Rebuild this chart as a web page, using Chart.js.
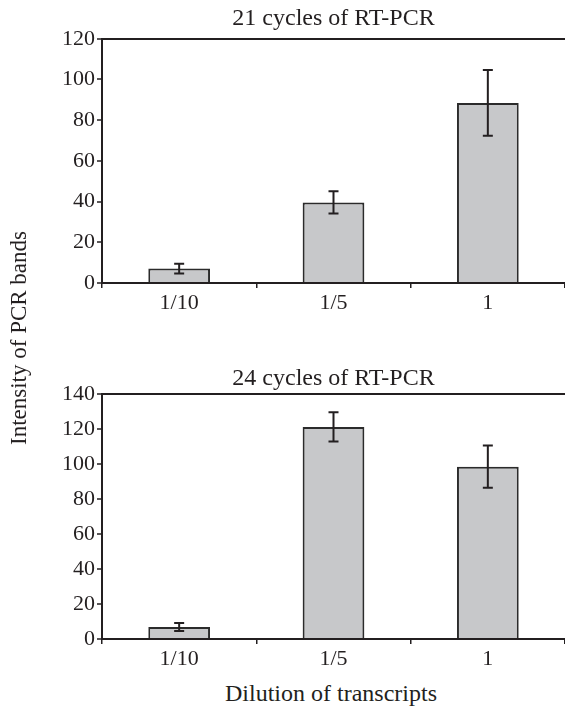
<!DOCTYPE html>
<html>
<head>
<meta charset="utf-8">
<script src="https://cdn.jsdelivr.net/npm/chart.js@4.4.1/dist/chart.umd.min.js"></script>
<style>
  body { margin: 0; background: #fff; }
  #wrap { position: relative; width: 565px; height: 707px; overflow: hidden; font-family: 'Liberation Serif', serif; color: #231f20; }
  canvas { position: absolute; left: 0; }
  #c21 { top: 0; }
  #c24 { top: 350px; }
  .lbl { position: absolute; line-height: 26px; text-align: center; white-space: nowrap; }
  #ytitle { font-size: 23px; width: 300px; left: -131px; top: 325px; transform: rotate(-90deg); }
  #xtitle { font-size: 24px; width: 300px; left: 181px; top: 680px; }
</style>
</head>
<body>
<div id="wrap">
  <canvas id="c21" width="565" height="330"></canvas>
  <canvas id="c24" width="565" height="330"></canvas>
  <div class="lbl" id="ytitle">Intensity of PCR bands</div>
  <div class="lbl" id="xtitle">Dilution of transcripts</div>
</div>
<script>
// Werte
const categories = ['1/10', '1/5', '1'];
const means21 = [7.1, 39.6, 88.5];
const errors21 = [2.4, 5.5, 16.2];
const means24 = [6.9, 121.1, 98.4];
const errors24 = [2.3, 8.3, 12.1];
const yMax21 = 120;
const yMax24 = 140;
const yStep = 20;

const ink = '#231f20';
const barFill = '#c7c8ca';

Chart.defaults.font.family = "'Liberation Serif', serif";
Chart.defaults.color = ink;

// Fehlerbalken ueber die Skala der Y-Achse zeichnen
const errorBars = {
    id: 'errorBars',
    afterDatasetsDraw(chart, args, opts) {
        const ctx = chart.ctx;
        const yScale = chart.scales.y;
        const meta = chart.getDatasetMeta(0);
        const values = chart.data.datasets[0].data;
        ctx.save();
        ctx.strokeStyle = ink;
        ctx.lineWidth = 2;
        meta.data.forEach((bar, i) => {
            const top = yScale.getPixelForValue(values[i] + opts.errors[i]);
            const bottom = yScale.getPixelForValue(values[i] - opts.errors[i]);
            ctx.beginPath();
            ctx.moveTo(bar.x, top);
            ctx.lineTo(bar.x, bottom);
            ctx.moveTo(bar.x - 5, top);
            ctx.lineTo(bar.x + 5, top);
            ctx.moveTo(bar.x - 5, bottom);
            ctx.lineTo(bar.x + 5, bottom);
            ctx.stroke();
        });
        ctx.restore();
    }
};

function makeChart(id, title, means, errors, yMax, titlePad, xHeight) {
    return new Chart(document.getElementById(id), {
        type: 'bar',
        data: {
            labels: categories,
            datasets: [{
                data: means,
                backgroundColor: barFill,
                borderColor: '#2b2b2b',
                borderWidth: 2,
                categoryPercentage: 1,
                barPercentage: 0.4
            }]
        },
        options: {
            responsive: false,
            animation: false,
            layout: { padding: { left: 0, right: 0, top: 0, bottom: 0 } },
            plugins: {
                legend: { display: false },
                tooltip: { enabled: false },
                title: {
                    display: true,
                    fullSize: false, // nur ueber der Zeichenflaeche zentrieren
                    text: title,
                    color: ink,
                    font: { size: 24, weight: 'normal' },
                    padding: titlePad
                },
                errorBars: { errors: errors }
            },
            scales: {
                x: {
                    grid: {
                        offset: true,
                        drawOnChartArea: false,
                        color: ink,
                        tickLength: 5,
                        lineWidth: 1.5
                    },
                    border: { display: true, color: ink, width: 2 },
                    ticks: { font: { size: 22 }, color: ink, padding: 2 },
                    afterFit(scale) { scale.height = xHeight; }
                },
                y: {
                    min: 0,
                    max: yMax,
                    grid: {
                        color: c => (c.tick && c.tick.value === yMax) ? ink : 'rgba(0,0,0,0)',
                        lineWidth: 2,
                        tickColor: ink,
                        tickWidth: 1.5,
                        tickLength: 5
                    },
                    border: { display: true, color: ink, width: 2 },
                    ticks: { stepSize: yStep, font: { size: 22 }, color: ink, padding: 2 },
                    afterFit(scale) { scale.width = 102; }
                }
            }
        },
        plugins: [errorBars]
    });
}

makeChart('c21', '21 cycles of RT-PCR', means21, errors21, yMax21, { top: 4, bottom: 6 }, 47);
makeChart('c24', '24 cycles of RT-PCR', means24, errors24, yMax24, { top: 14, bottom: 1 }, 41);
</script>
</body>
</html>
